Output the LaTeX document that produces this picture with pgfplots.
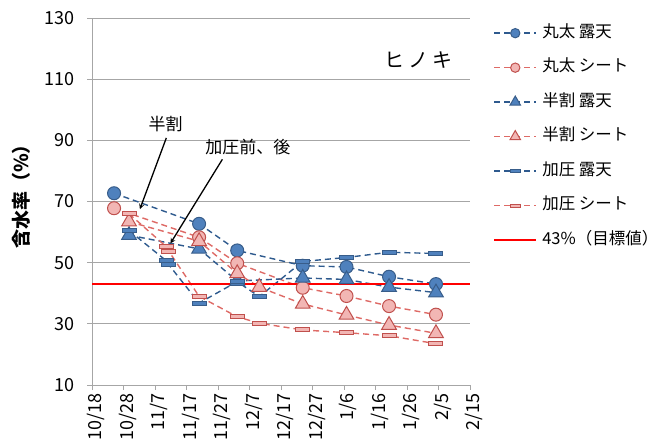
\documentclass[border=0pt]{standalone}
\usepackage{fontspec}
\setmainfont{Noto Sans CJK JP}
\usepackage{pgfplots}
\pgfplotsset{compat=1.18}
\definecolor{bfill}{HTML}{4F81BD}
\definecolor{bedge}{HTML}{385D8A}
\definecolor{bline}{HTML}{2E5A8E}
\definecolor{pfill}{HTML}{F2B6B4}
\definecolor{pedge}{HTML}{C0504D}
\definecolor{pline}{HTML}{DE6A66}
\definecolor{gridc}{HTML}{A6A6A6}
\pgfdeclareplotmark{hbar}{\pgfpathrectangle{\pgfpoint{-7bp}{-2bp}}{\pgfpoint{14bp}{4bp}}\pgfusepathqfillstroke}
\begin{document}
\begin{tikzpicture}
\begin{axis}[
  at={(92bp,62bp)}, anchor=south west,
  width=378bp, height=367bp, scale only axis,
  xmin=0, xmax=120, ymin=10, ymax=130,
  axis lines=left, axis line style={-, gridc, line width=0.8bp},
  xtick={0,10,...,120},
  xticklabels={10/18,10/28,11/7,11/17,11/27,12/7,12/17,12/27,1/6,1/16,1/26,2/5,2/15},
  ytick={10,30,...,130},
  ymajorgrids, grid style={gridc, line width=0.8bp},
  tick align=outside, major tick length=5bp, tick style={gridc, line width=0.8bp},
  /pgf/number format/assume math mode=true,
  tick label style={font=\fontsize{18bp}{20bp}\selectfont},
  x tick label style={rotate=90, anchor=east, yshift=-4bp},
  y tick label style={xshift=-9bp},
  clip=false,
  every axis plot/.append style={line width=1.4bp, dash pattern=on 6bp off 4bp},
  legend image code/.code={\draw[mark repeat=2,mark phase=2,#1, every mark/.append style={scale=0.72}] plot coordinates {(0bp,0bp) (21bp,0bp) (42bp,0bp)};},
  legend style={at={(1.061,0.981)}, anchor=north west, draw=none, fill=none,
    font=\fontsize{16.5bp}{18bp}\selectfont, row sep=18.5bp, inner sep=0pt,
    nodes={inner xsep=5bp, inner ysep=0pt, text height=12bp, text depth=4bp}},
  legend cell align=left,
]
\addplot[bline, mark=*, mark size=6.5bp, mark options={solid, fill=bfill, draw=bedge, line width=1bp}]
  coordinates {(7,72.7) (34,62.7) (46.1,54) (66.9,49) (80.8,48.6) (94.3,45.4) (109.2,43)};
\addlegendentry{丸太 露天}
\addplot[pline, mark=*, mark size=6.5bp, mark options={solid, fill=pfill, draw=pedge, line width=1bp}]
  coordinates {(7,67.8) (34,58.3) (46.1,49.8) (66.9,41.8) (80.8,39.1) (94.3,35.8) (109.2,33)};
\addlegendentry{丸太 シート}
\addplot[bline, mark=triangle*, mark size=8.5bp, mark options={solid, fill=bfill, draw=bedge, line width=1bp}]
  coordinates {(11.75,59) (34,54.5) (46.1,44) (66.9,45) (80.8,44.5) (94.3,42) (109.2,40.2)};
\addlegendentry{半割 露天}
\addplot[pline, mark=triangle*, mark size=8.5bp, mark options={solid, fill=pfill, draw=pedge, line width=1bp}]
  coordinates {(11.75,63.4) (34,57) (46.1,46.5) (53.1,42) (66.9,36.5) (80.8,32.9) (94.3,29.6) (109.2,26.9)};
\addlegendentry{半割 シート}
\addplot[bline, mark=hbar, mark options={solid, fill=bfill, draw=bedge, line width=1bp}]
  coordinates {(11.75,60.5) (23.6,50.6) (24.4,49.3) (34,36.8) (46.1,43.8) (53.1,38.9) (66.9,50.4) (80.8,51.7) (94.3,53.4) (109.2,53)};
\addlegendentry{加圧 露天}
\addplot[pline, mark=hbar, mark options={solid, fill=pfill, draw=pedge, line width=1bp}]
  coordinates {(11.75,66) (23.6,55.2) (24.4,53.7) (34,39) (46.1,32.3) (53.1,30.2) (66.9,28) (80.8,27.1) (94.3,26.1) (109.2,23.5)};
\addlegendentry{加圧 シート}
\addplot[red, solid, line width=2bp, mark=none] coordinates {(0,43) (120,43)};
\addlegendentry{43\%（目標値）}
\node[font=\fontsize{20bp}{22bp}\selectfont] at (axis cs:103.8,116.3) {ヒ\hspace{4bp}ノ\hspace{4bp}キ};
\node[font=\fontsize{17bp}{19bp}\selectfont] at (axis cs:23.4,95.3) {半割};
\node[font=\fontsize{17bp}{19bp}\selectfont] at (axis cs:49.5,87.8) {加圧前、後};
\draw[-stealth, black, line width=1.3bp] (axis cs:23.6,90.8) -- (axis cs:15.2,67.5);
\draw[-stealth, black, line width=1.3bp] (axis cs:41.4,83.8) -- (axis cs:24.9,56.3);
\node[rotate=90, font=\fontsize{19bp}{21bp}\selectfont\bfseries] at (rel axis cs:-0.188,0.526) {含水率（\%）};
\end{axis}
\pgfresetboundingbox
\path[use as bounding box] (0,0) rectangle (659bp,447bp);
\end{tikzpicture}
\end{document}
